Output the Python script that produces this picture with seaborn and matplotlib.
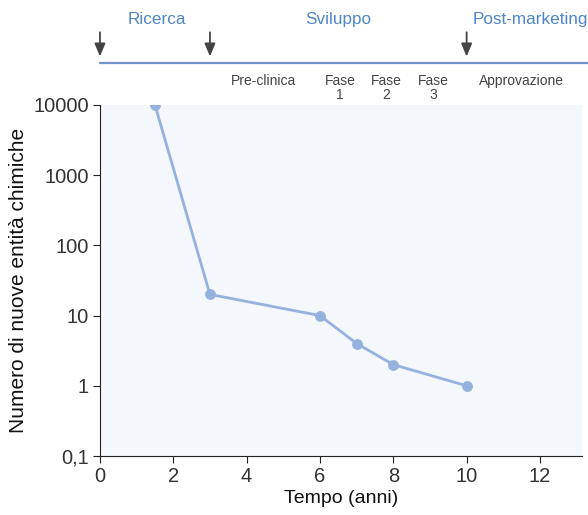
import matplotlib
matplotlib.use("Agg")
import matplotlib.pyplot as plt
import seaborn as sns
import pandas as pd
from matplotlib.ticker import FixedLocator, FixedFormatter, NullLocator

# Data
anni = [1.5, 3, 6, 7, 8, 10]
entita = [10000, 20, 10, 4, 2, 1]
y_ticks = [0.1, 1, 10, 100, 1000, 10000]
y_labels = ["0,1", "1", "10", "100", "1000", "10000"]
x_ticks = [0, 2, 4, 6, 8, 10, 12]
fasi_x = [0, 3, 10]
fasi_label = ["Ricerca", "Sviluppo", "Post-marketing"]
fasi_label_x = [1.55, 6.5, 11.75]
sotto_label = ["Pre-clinica", "Fase\n1", "Fase\n2", "Fase\n3", "Approvazione"]
sotto_x = [4.45, 6.55, 7.8, 9.1, 11.5]

sns.set_style("ticks")
plt.rcParams['font.family'] = ['Liberation Sans', 'DejaVu Sans']

df = pd.DataFrame({"anni": anni, "entita": entita})

fig = plt.figure(figsize=(5.88, 5.15), dpi=100)
ax = fig.add_axes([0.170, 0.1146, 0.82, 0.6816])
ax.set_facecolor("#f4f7fc")

blue = "#95b2df"
sns.lineplot(data=df, x="anni", y="entita", ax=ax, color=blue, linewidth=2,
             marker="o", markersize=7, markeredgecolor=blue, markerfacecolor=blue)

ax.set_yscale("log")
ax.set_ylim(0.1, 10000)
ax.set_xlim(0, 13.15)
ax.yaxis.set_major_locator(FixedLocator(y_ticks))
ax.yaxis.set_major_formatter(FixedFormatter(y_labels))
ax.yaxis.set_minor_locator(NullLocator())
ax.set_xticks(x_ticks)
ax.tick_params(axis="both", labelsize=14.5, colors="#222222", length=5, width=0.8, pad=3)
for lab in ax.get_xticklabels() + ax.get_yticklabels():
    lab.set_color("#333333")
ax.set_xlabel("Tempo (anni)", fontsize=14, color="#111111", labelpad=3)
ax.set_ylabel("Numero di nuove entità chimiche", fontsize=15, color="#111111", labelpad=4)
sns.despine(ax=ax)
ax.spines["left"].set_color("#222222")
ax.spines["bottom"].set_color("#222222")

trans = ax.get_xaxis_transform()
# header line
ax.plot([0, 13.4], [1.12, 1.12], transform=trans, color="#7393d0", lw=1.6, clip_on=False)
for xv in fasi_x:
    ax.annotate("", xy=(xv, 1.13), xytext=(xv, 1.215), xycoords=trans, textcoords=trans,
                arrowprops=dict(arrowstyle="-|>,head_width=0.25,head_length=0.6",
                                color="#444444", lw=1.3, mutation_scale=13),
                annotation_clip=False)
for xv, t in zip(fasi_label_x, fasi_label):
    ax.text(xv, 1.243, t, transform=trans, ha="center", va="center", fontsize=12.3,
            color="#4f86c6", clip_on=False)
for xv, t in zip(sotto_x, sotto_label):
    ax.text(xv, 1.088, t, transform=trans, ha="center", va="top", fontsize=10,
            color="#444444", linespacing=1.0, clip_on=False)

fig.savefig("out.png", dpi=100, facecolor="white")
